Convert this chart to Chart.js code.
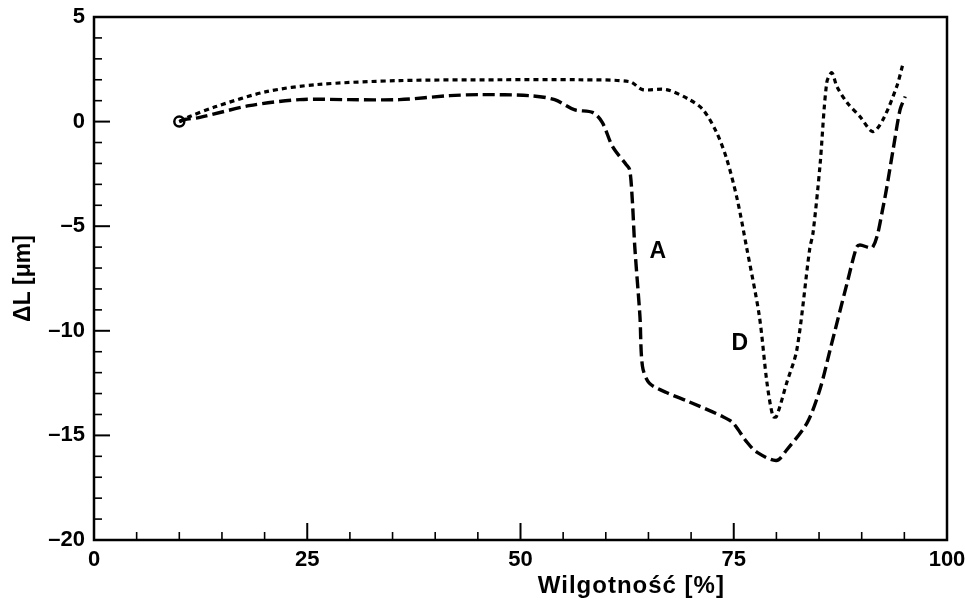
<!DOCTYPE html>
<html>
<head>
<meta charset="utf-8">
<script src="https://cdn.jsdelivr.net/npm/chart.js@4"></script>
<style>
  body { margin: 0; background: #fff; }
  #wrap { width: 965px; height: 601px; }
</style>
</head>
<body>
<div id="wrap"><canvas id="wykres"></canvas></div>
<script>
// Krzywa A (linia kreskowana)
const wilgA = [10, 10.6, 12.3, 18.2, 24.1, 29.9, 35.8, 41.7, 45.2, 51.1, 54, 56.3, 58.5, 59.6, 60.8, 62.4, 62.8, 63.1, 63.4, 64, 64.3, 65.1, 67.1, 69.8, 73.7, 74.9, 76.5, 77.7, 80, 81.2, 83.6, 85.1, 86.3, 88.3, 89.4, 89.8, 91.3, 92.5, 93.7, 94.5, 95.1];
const dlA = [0, 0.1, 0.19, 0.76, 1.05, 1.05, 1.05, 1.24, 1.29, 1.24, 1.05, 0.57, 0.43, -0.05, -1.2, -2.06, -2.3, -3.7, -6, -9.3, -11.7, -12.5, -12.95, -13.4, -14.1, -14.4, -15.3, -15.8, -16.2, -15.7, -14.4, -12.8, -10.9, -7.7, -6, -5.9, -6, -4.1, -1.3, 0.57, 1.2];

// Krzywa D (linia kropkowana)
const wilgD = [10, 11.2, 14.3, 20.2, 26.1, 35.8, 47.5, 56.9, 62.8, 64.3, 67.1, 69.8, 71.4, 73, 74.2, 75.4, 76.5, 78, 78.9, 79.6, 80, 81.2, 82.4, 83.9, 84.3, 85.1, 85.9, 86.5, 87.1, 88.3, 89.8, 91.3, 92.5, 94.1, 94.8];
const dlD = [0, 0.24, 0.72, 1.43, 1.77, 1.96, 2.0, 2.0, 1.91, 1.53, 1.53, 1.05, 0.57, -0.53, -1.82, -3.7, -6, -9.3, -12.5, -14.1, -14.1, -12.5, -10.9, -6.1, -5.3, -2.15, 1.86, 2.34, 1.67, 0.9, 0.24, -0.48, 0.1, 1.67, 2.7];

const ticksX = [0, 25, 50, 75, 100];
const ticksY = [5, 0, -5, -10, -15, -20];

// Podpisy krzywych (w jednostkach danych)
const podpisy = [
    { tekst: 'A', x: 66.1, y: -6.2 },
    { tekst: 'D', x: 75.7, y: -10.6 }
];
const tytulX = 'Wilgotność [%]';
const tytulY = '\u0394L [\u03bcm]';

const czcionka = '"Liberation Sans", Arial, sans-serif';
Chart.defaults.font.family = czcionka;
Chart.defaults.font.weight = 'bold';
Chart.defaults.color = '#000';

const punkty = (xs, ys) => xs.map((x, i) => ({ x: x, y: ys[i] }));
const minus = v => String(v).replace('-', '\u2013');

// Ticki skierowane do środka, ramka, podpisy i tytuł osi X
const ramka = {
    id: 'ramka',
    afterDatasetsDraw(chart) {
        const { ctx, chartArea: a, scales: { x, y } } = chart;
        ctx.save();
        ctx.strokeStyle = '#000';
        x.ticks.forEach(t => {
            if (t.value <= 0 || t.value >= 100) return;
            const px = x.getPixelForValue(t.value);
            const duzy = ticksX.includes(t.value);
            ctx.lineWidth = duzy ? 2 : 1.6;
            ctx.beginPath();
            ctx.moveTo(px, a.bottom);
            ctx.lineTo(px, a.bottom - (duzy ? 17 : 8));
            ctx.stroke();
        });
        y.ticks.forEach(t => {
            if (t.value <= -20 || t.value >= 5) return;
            const py = y.getPixelForValue(t.value);
            const duzy = ticksY.includes(t.value);
            ctx.lineWidth = duzy ? 2 : 1.6;
            ctx.beginPath();
            ctx.moveTo(a.left, py);
            ctx.lineTo(a.left + (duzy ? 16 : 8), py);
            ctx.stroke();
        });
        ctx.lineWidth = 2.5;
        ctx.strokeRect(a.left, a.top, a.right - a.left, a.bottom - a.top);

        ctx.fillStyle = '#000';
        ctx.textAlign = 'center';
        ctx.textBaseline = 'middle';
        ctx.font = 'bold 23px ' + czcionka;
        podpisy.forEach(p => {
            ctx.fillText(p.tekst, x.getPixelForValue(p.x), y.getPixelForValue(p.y));
        });

        // tytuł osi X przesunięty w prawo jak w oryginale
        ctx.font = 'bold 24px ' + czcionka;
        ctx.letterSpacing = '1px';
        ctx.textBaseline = 'alphabetic';
        ctx.fillText(tytulX, x.getPixelForValue(63), a.bottom + 53);
        ctx.restore();
    }
};

new Chart(document.getElementById('wykres'), {
    type: 'line',
    data: {
        datasets: [
            {
                label: 'A',
                data: punkty(wilgA, dlA),
                borderColor: '#000',
                borderWidth: 3.4,
                borderDash: [12, 5],
                tension: 0.3,
                pointRadius: 0,
                fill: false
            },
            {
                label: 'D',
                data: punkty(wilgD, dlD),
                borderColor: '#000',
                borderWidth: 3.2,
                borderDash: [5, 4],
                tension: 0.3,
                pointRadius: ctx => ctx.dataIndex === 0 ? 5 : 0,
                pointStyle: 'circle',
                pointBorderColor: '#000',
                pointBorderWidth: 2.5,
                pointBackgroundColor: 'rgba(0,0,0,0)',
                fill: false
            }
        ]
    },
    options: {
        responsive: true,
        maintainAspectRatio: false,
        animation: false,
        layout: { padding: { left: 6, top: 17, right: 18, bottom: 0 } },
        plugins: { legend: { display: false }, tooltip: { enabled: false } },
        scales: {
            x: {
                type: 'linear',
                min: 0,
                max: 100,
                grid: { display: false, drawTicks: false },
                border: { display: false },
                ticks: {
                    stepSize: 5,
                    autoSkip: false,
                    maxRotation: 0,
                    padding: 7,
                    font: { size: 22, weight: 'bold' },
                    callback: v => ticksX.includes(v) ? String(v) : ''
                },
                afterFit: s => { s.height = 61; s.paddingLeft = 0; s.paddingRight = 0; }
            },
            y: {
                min: -20,
                max: 5,
                grid: { display: false, drawTicks: false },
                border: { display: false },
                ticks: {
                    stepSize: 1,
                    autoSkip: false,
                    padding: 9,
                    font: { size: 22, weight: 'bold' },
                    callback: v => ticksY.includes(v) ? minus(v) : ''
                },
                title: {
                    display: true,
                    text: tytulY,
                    font: { size: 23, weight: 'bold' },
                    padding: { top: 4, bottom: 4 }
                },
                afterFit: s => { s.width = 88; s.paddingTop = 0; s.paddingBottom = 0; }
            }
        }
    },
    plugins: [ramka]
});
</script>
</body>
</html>
